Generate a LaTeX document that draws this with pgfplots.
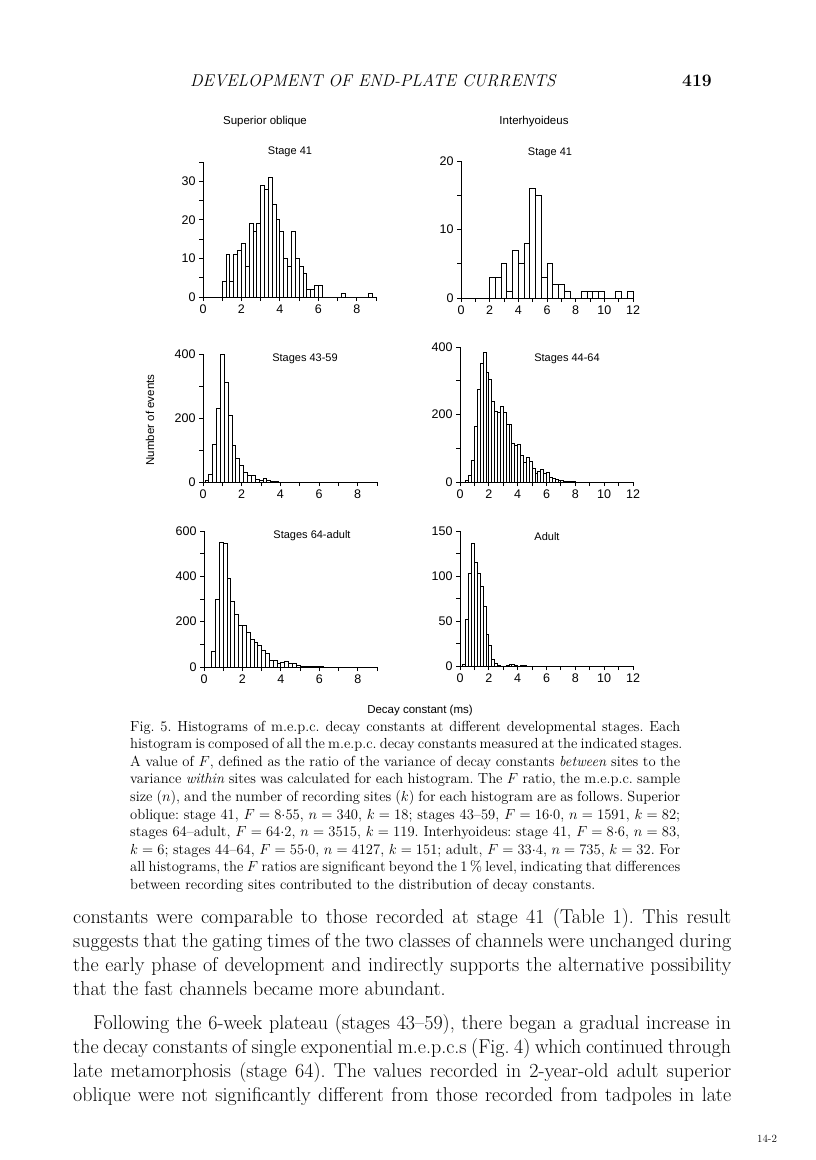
\documentclass[border=0pt]{standalone}
\usepackage{fix-cm}
\usepackage{fontspec}
\usepackage{pgfplots}
\pgfplotsset{compat=1.18}
\newfontfamily\helv{Liberation Sans}
\newcommand{\capfont}{\fontsize{14.6}{17}\selectfont}
\newcommand{\bodyfont}{\fontsize{20}{24}\selectfont}
\newcommand{\titfont}{\helv\fontsize{11}{12}\selectfont}
\pgfplotsset{
 histo/.style={
   scale only axis, anchor=south west,
   axis lines=left, axis line style={-, line width=1pt},
   xmin=0, ymin=0,
   tick align=outside, major tick length=4pt, minor tick length=4pt,
   tick style={black, line width=0.9pt},
   /pgf/number format/assume math mode=true,
   tick label style={font=\helv\fontsize{12.5pt}{13pt}\selectfont},
   clip=false, scaled ticks=false,
 },
 bars/.style={ybar interval, fill=white, draw=black, line width=0.85pt},
}
\frenchspacing
\begin{document}
\begin{tikzpicture}
\fill[white] (0pt,0pt) rectangle (816pt,-1160pt);
\useasboundingbox (0pt,0pt) rectangle (816pt,-1160pt);

% header
\node[anchor=base west, inner sep=0] at (190pt,-86pt) {\fontsize{17}{17}\selectfont\itshape DEVELOPMENT OF END-PLATE CURRENTS};
\node[anchor=base east, inner sep=0] at (712pt,-86pt) {\fontsize{17.5}{17}\selectfont\bfseries 419};

\node at (265pt,-122pt) {\helv\fontsize{11.5}{12}\selectfont Superior oblique};
\node at (534pt,-122pt) {\helv\fontsize{11.5}{12}\selectfont Interhyoideus};
\node[rotate=90] at (150pt,-420pt) {\helv\fontsize{11.5}{12}\selectfont Number of events};
\node at (420pt,-711pt) {\helv\fontsize{11.5}{12}\selectfont Decay constant (ms)};

% ---------- Superior oblique, stage 41
\begin{axis}[histo, at={(203pt,-297pt)}, width=173pt, height=135pt,
  xmax=9, ymax=35, xtick={0,2,...,8}, minor xtick={1,3,...,9},
  ytick={0,10,20,30}, minor ytick={5,15,25,35}]
\addplot[bars] coordinates {
(1.0,4)(1.2,11)(1.4,4)(1.6,11)(1.8,12)(2.0,14)(2.2,8)(2.4,19)(2.6,17)(2.8,19)
(3.0,29)(3.2,28)(3.4,31)(3.6,24)(3.8,20)(4.0,17)(4.2,10)(4.4,8)(4.6,17)(4.8,10)
(5.0,8)(5.2,6)(5.4,2)(5.6,2)(5.8,3)(6.0,3)(6.2,0)(6.4,0)(6.6,0)(6.8,0)(7.0,0)
(7.2,1)(7.4,0)(7.6,0)(7.8,0)(8.0,0)(8.2,0)(8.4,0)(8.6,1)(8.8,0)};
\end{axis}

% ---------- Interhyoideus, stage 41
\begin{axis}[histo, at={(461pt,-298pt)}, width=172pt, height=137pt,
  xmax=12, ymax=20, xtick={0,2,...,12}, minor xtick={1,3,...,11},
  ytick={0,10,20}, minor ytick={5,15}]
\addplot[bars] coordinates {
(2.0,3)(2.4,3)(2.8,5)(3.2,1)(3.6,7)(4.0,5)(4.4,8)(4.8,16)(5.2,15)(5.6,3)
(6.0,5)(6.4,2)(6.8,2)(7.2,1)(7.6,0)(8.0,0)(8.4,1)(8.8,1)(9.2,1)(9.6,1)
(10.0,0)(10.4,0)(10.8,1)(11.2,0)(11.6,1)(12.0,0)};
\end{axis}

% ---------- Superior oblique, stages 43-59
\begin{axis}[histo, at={(203pt,-482pt)}, width=174pt, height=128pt,
  xmax=9, ymax=400, xtick={0,2,...,8}, minor xtick={1,3,...,9},
  ytick={0,200,400}, minor ytick={100,300}]
\addplot[bars] coordinates {
(0.1,5)(0.3,23)(0.5,118)(0.7,231)(0.9,400)(1.1,312)(1.3,207)(1.5,113)(1.7,75)
(1.9,51)(2.1,30)(2.3,20)(2.5,20)(2.7,7)(2.9,4)(3.1,11)(3.3,6)(3.5,2)(3.7,1)(3.9,0)};
\end{axis}

% ---------- Interhyoideus, stages 44-64
\begin{axis}[histo, at={(460pt,-482pt)}, width=173pt, height=135pt,
  xmax=12, ymax=400, xtick={0,2,...,12}, minor xtick={1,3,...,11},
  ytick={0,200,400}, minor ytick={100,300}]
\addplot[bars] coordinates {
(0.4,5)(0.6,20)(0.8,65)(1.0,165)(1.2,275)(1.4,350)(1.6,385)(1.8,325)(2.0,305)
(2.2,240)(2.4,210)(2.6,205)(2.8,225)(3.0,205)(3.2,170)(3.4,170)(3.6,115)(3.8,108)
(4.0,110)(4.2,78)(4.4,58)(4.6,72)(4.8,60)(5.0,40)(5.2,25)(5.4,30)(5.6,37)(5.8,25)
(6.0,28)(6.2,14)(6.4,10)(6.6,7)(6.8,6)(7.0,4)(7.2,3)(7.4,2)(7.6,2)(7.8,1)(8.0,0)};
\end{axis}

% ---------- Superior oblique, stages 64-adult
\begin{axis}[histo, at={(204pt,-667pt)}, width=173pt, height=136pt,
  xmax=9, ymax=600, xtick={0,2,...,8}, minor xtick={1,3,...,9},
  ytick={0,200,400,600}, minor ytick={100,300,500}]
\addplot[bars] coordinates {
(0.4,69)(0.6,297)(0.8,549)(1.0,544)(1.2,393)(1.4,291)(1.6,231)(1.8,184)(2.0,184)
(2.2,151)(2.4,122)(2.6,107)(2.8,96)(3.0,74)(3.2,59)(3.4,29)(3.6,29)(3.8,18)(4.0,22)
(4.2,26)(4.4,15)(4.6,15)(4.8,7)(5.0,3)(5.2,2)(5.4,2)(5.6,1)(5.8,1)(6.0,1)(6.2,0)};
\end{axis}

% ---------- Interhyoideus, adult
\begin{axis}[histo, at={(460pt,-666pt)}, width=173pt, height=135pt,
  xmax=12, ymax=150, xtick={0,2,...,12}, minor xtick={1,3,...,11},
  ytick={0,50,100,150}, minor ytick={25,75,125}]
\addplot[bars] coordinates {
(0.2,2)(0.4,52)(0.6,103)(0.8,136)(1.0,115)(1.2,103)(1.4,88)(1.6,66)(1.8,35)
(2.0,23)(2.2,7)(2.4,3)(2.6,1)(2.8,0)(3.0,0)(3.2,1)(3.4,2)(3.6,2)(3.8,1)(4.0,0)
(4.2,1)(4.4,1)(4.6,0)};
\end{axis}

% panel titles
\node at (290pt,-152pt) {\titfont Stage 41};
\node at (550pt,-153pt) {\titfont Stage 41};
\node at (305pt,-359pt) {\titfont Stages 43-59};
\node at (567pt,-359pt) {\titfont Stages 44-64};
\node at (312pt,-536pt) {\titfont Stages 64-adult};
\node at (547pt,-537pt) {\titfont Adult};

% caption
\begin{scope}[every node/.style={anchor=base west, inner sep=0}]
\def\cx{130pt}\def\cw{550pt}
\node at (\cx,-731pt) {\capfont\makebox[\cw][s]{Fig. 5. Histograms of m.e.p.c. decay constants at different developmental stages. Each}};
\node at (\cx,-748.6pt) {\capfont\makebox[\cw][s]{histogram is composed of all the m.e.p.c. decay constants measured at the indicated stages.}};
\node at (\cx,-766.2pt) {\capfont\makebox[\cw][s]{A value of $F$, defined as the ratio of the variance of decay constants \emph{between} sites to the}};
\node at (\cx,-783.8pt) {\capfont\makebox[\cw][s]{variance \emph{within} sites was calculated for each histogram. The $F$ ratio, the m.e.p.c. sample}};
\node at (\cx,-801.4pt) {\capfont\makebox[\cw][s]{size ($n$), and the number of recording sites ($k$) for each histogram are as follows. Superior}};
\node at (\cx,-819pt) {\capfont\makebox[\cw][s]{oblique: stage 41, $F=8{\cdot}55$, $n=340$, $k=18$; stages 43--59, $F=16{\cdot}0$, $n=1591$, $k=82$;}};
\node at (\cx,-836.6pt) {\capfont\makebox[\cw][s]{stages 64--adult, $F=64{\cdot}2$, $n=3515$, $k=119$. Interhyoideus: stage 41, $F=8{\cdot}6$, $n=83$,}};
\node at (\cx,-854.2pt) {\capfont\makebox[\cw][s]{$k=6$; stages 44--64, $F=55{\cdot}0$, $n=4127$, $k=151$; adult, $F=33{\cdot}4$, $n=735$, $k=32$. For}};
\node at (\cx,-871.8pt) {\capfont\makebox[\cw][s]{all histograms, the $F$ ratios are significant beyond the 1\,\% level, indicating that differences}};
\node at (\cx,-889.4pt) {\capfont between recording sites contributed to the distribution of decay constants.};

% body
\def\bx{73pt}\def\bw{658pt}
\node at (\bx,-923pt) {\bodyfont\makebox[\bw][s]{constants were comparable to those recorded at stage 41 (Table 1). This result}};
\node at (\bx,-947pt) {\bodyfont\makebox[\bw][s]{suggests that the gating times of the two classes of channels were unchanged during}};
\node at (\bx,-971pt) {\bodyfont\makebox[\bw][s]{the early phase of development and indirectly supports the alternative possibility}};
\node at (\bx,-995pt) {\bodyfont that the fast channels became more abundant.};
\node at (93pt,-1029pt) {\bodyfont\makebox[638pt][s]{Following the 6-week plateau (stages 43--59), there began a gradual increase in}};
\node at (\bx,-1053pt) {\bodyfont\makebox[\bw][s]{the decay constants of single exponential m.e.p.c.s (Fig.~4) which continued through}};
\node at (\bx,-1077pt) {\bodyfont\makebox[\bw][s]{late metamorphosis (stage 64). The values recorded in 2-year-old adult superior}};
\node at (\bx,-1101pt) {\bodyfont\makebox[\bw][s]{oblique were not significantly different from those recorded from tadpoles in late}};
\node at (757pt,-1142pt) {\fontsize{11}{12}\selectfont 14-2};
\end{scope}
\end{tikzpicture}
\end{document}
